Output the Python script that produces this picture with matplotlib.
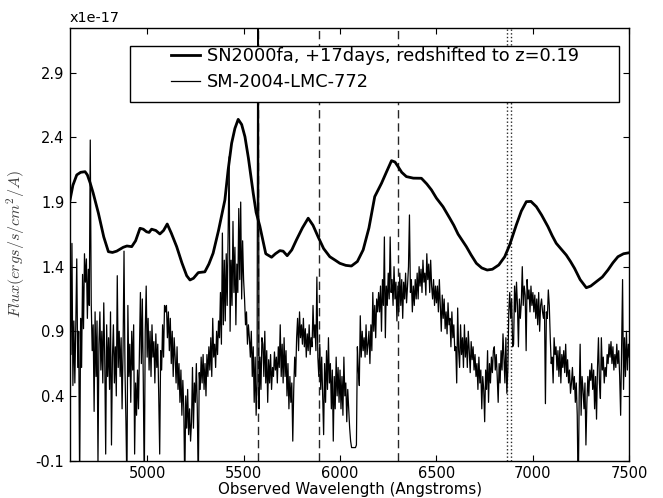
import numpy as np
import matplotlib
matplotlib.use("Agg")
import matplotlib.pyplot as plt
from matplotlib.patches import Rectangle

plt.rcParams['axes.unicode_minus'] = False
plt.rcParams['mathtext.fontset'] = 'cm'

# ---------------- data (flux in units of 1e-17) ----------------
sn_wave = [4600, 4615, 4635, 4655, 4678, 4690, 4704, 4720, 4747, 4775, 4799, 4820,
           4842, 4876, 4895, 4920, 4940, 4963, 4980, 4997, 5010, 5023, 5045, 5066,
           5085, 5104, 5125, 5153, 5180, 5205, 5222, 5240, 5265, 5299, 5320, 5342,
           5370, 5403, 5420, 5438, 5455, 5472, 5490, 5507, 5525, 5550, 5565, 5584,
           5615, 5645, 5665, 5688, 5705, 5726, 5750, 5774, 5805, 5835, 5860, 5886,
           5915, 5947, 5975, 5999, 6030, 6059, 6090, 6120, 6150, 6180, 6215, 6240,
           6267, 6285, 6301, 6320, 6344, 6380, 6422, 6450, 6474, 6500, 6534, 6569,
           6590, 6612, 6655, 6680, 6707, 6735, 6763, 6790, 6823, 6854, 6880, 6914,
           6940, 6966, 6990, 7018, 7045, 7078, 7100, 7121, 7150, 7173, 7195, 7216,
           7245, 7277, 7300, 7329, 7360, 7389, 7415, 7441, 7470, 7500]
sn_flux = [1.916, 2.03, 2.11, 2.13, 2.135, 2.11, 2.05, 1.97, 1.815, 1.63, 1.516, 1.51,
           1.52, 1.55, 1.56, 1.555, 1.60, 1.697, 1.69, 1.67, 1.665, 1.69, 1.68, 1.653,
           1.68, 1.73, 1.66, 1.555, 1.43, 1.33, 1.297, 1.31, 1.354, 1.36, 1.42, 1.504,
           1.68, 1.916, 2.15, 2.355, 2.47, 2.54, 2.50, 2.406, 2.24, 1.968, 1.82, 1.715,
           1.50, 1.473, 1.50, 1.524, 1.52, 1.485, 1.53, 1.607, 1.70, 1.775, 1.72, 1.632,
           1.54, 1.477, 1.45, 1.426, 1.41, 1.405, 1.44, 1.53, 1.70, 1.942, 2.045, 2.13,
           2.22, 2.21, 2.174, 2.13, 2.097, 2.085, 2.084, 2.04, 1.994, 1.93, 1.864, 1.775,
           1.72, 1.652, 1.555, 1.49, 1.426, 1.39, 1.374, 1.38, 1.413, 1.477, 1.57, 1.723,
           1.83, 1.903, 1.905, 1.864, 1.80, 1.71, 1.64, 1.581, 1.53, 1.49, 1.44, 1.387,
           1.30, 1.237, 1.25, 1.284, 1.32, 1.374, 1.43, 1.477, 1.50, 1.508]

sm_start = 4600
sm_step = 5
sm_flux = (
    # 4600-4695
    [1.18, 0.72, 1.58, 0.48, 0.98, 0.50, 0.95, 1.46, 0.62, 0.90, -0.30, 1.00, 0.62, 1.34, 0.92, 1.50, 1.28, 1.46, 1.00, 1.38]
    # 4700-4795
    + [1.10, 2.38, 1.12, 0.75, 0.95, 0.28, 1.05, 0.55, 0.98, -0.12, 0.80, 1.05, 0.60, 0.90, 0.50, 1.12, 0.70, -0.05, 0.95, 0.55]
    # 4800-4895
    + [0.85, 0.45, 1.05, 0.02, 0.70, 0.95, 0.50, 0.78, 0.40, 1.33, 0.62, 0.90, 0.55, 0.85, 0.30, 0.75, 1.52, 0.60, 0.20, -0.30]
    # 4900-4995
    + [1.10, 0.55, 0.80, 0.35, 0.90, 0.60, 0.95, -0.05, 0.50, 0.25, 0.60, 0.30, 0.75, 1.20, 0.65, 1.15, 0.50, -0.30, 0.90, 1.25]
    # 5000-5095
    + [0.70, 1.00, 0.60, 0.90, 0.55, 0.95, 0.70, 0.82, 0.50, 0.88, 0.62, 0.80, 0.40, -0.05, 0.75, 0.60, 0.95, 0.70, 1.10, 1.05]
    # 5100-5195
    + [1.10, 0.85, 1.05, 0.75, 1.00, 0.65, 0.90, 0.55, 0.85, 0.70, 0.50, 0.78, 0.45, 0.65, 0.35, 0.60, 0.25, 0.52, 0.30, -0.30]
    # 5200-5295
    + [0.40, 0.15, 0.45, 0.10, 0.30, 0.05, 0.20, 0.62, 0.15, 0.50, 0.35, 0.65, 0.30, -0.30, 0.58, 0.45, 0.70, 0.50, 0.72, 0.45]
    # 5300-5395
    + [0.65, 0.40, 0.72, 0.55, 0.78, 0.60, 0.85, 0.55, 1.00, 0.70, 0.80, 0.62, 0.90, 0.72, 0.98, 0.85, 1.20, 0.80, 1.66, 0.95]
    # 5400-5495
    + [1.45, 0.98, 1.50, 1.10, 1.65, 2.25, 0.90, 1.45, 1.10, 1.75, 1.20, 1.55, 0.95, 1.42, 1.20, 1.85, 1.30, 1.90, 1.15, 1.60]
    # 5500-5595
    + [1.30, 1.15, 0.95, 1.05, 0.80, 0.95, 0.85, 0.70, 0.90, 0.55, 0.78, 0.35, 0.70, 0.25, 0.50, 5.00, 0.30, 0.70, 0.45, 0.85]
    # 5600-5695
    + [0.80, 0.55, 0.90, 0.50, 0.75, 0.35, 0.68, 0.50, 0.72, 0.45, 0.62, 0.55, 0.74, 0.60, 0.70, 0.50, 0.78, 0.62, 0.95, 0.55]
    # 5700-5795
    + [0.80, 0.50, 0.85, 0.55, 0.75, 0.40, 0.65, 0.30, 0.55, 0.35, 0.50, 0.05, 0.45, 0.70, 0.55, 0.85, 1.00, 0.75, 1.05, 0.85]
    # 5800-5895
    + [0.95, 0.80, 1.00, 0.78, 0.92, 0.70, 0.88, 0.75, 0.95, 0.72, 0.85, 0.78, 1.10, 0.85, 0.95, 0.75, 1.32, 0.70, 0.55, 0.80]
    # 5900-5995
    + [0.45, 0.70, 0.40, 0.10, 0.65, 0.35, 0.75, 0.45, 0.85, 0.50, 0.65, 0.30, 0.60, 0.05, 0.55, 0.30, 0.70, 0.40, 0.62, 0.35]
    # 6000-6095
    + [0.60, 0.30, 0.55, 0.25, 0.70, 0.40, 0.50, 0.20, 0.45, 0.30, 0.15, 0.05, 0.00, 0.00, 0.00, 0.00, 0.00, 0.02, 0.78, 0.60]
    # 6100-6195
    + [0.48, 1.02, 0.70, 0.90, 0.75, 0.85, 0.70, 0.95, 0.72, 0.80, 0.90, 0.65, 0.95, 0.75, 1.20, 0.90, 1.10, 0.85, 1.15, 1.05]
    # 6200-6295
    + [1.20, 1.05, 1.25, 0.90, 1.30, 1.10, 1.63, 0.85, 1.25, 1.10, 1.35, 1.15, 1.63, 1.20, 1.30, 1.10, 1.40, 1.15, 1.28, 0.98]
    # 6300-6395
    + [1.25, 1.05, 1.35, 1.10, 1.30, 1.00, 1.28, 1.15, 1.35, 1.12, 1.25, 1.40, 1.80, 1.20, 1.30, 1.05, 1.25, 1.10, 1.30, 1.15]
    # 6400-6495
    + [1.35, 1.15, 1.40, 1.25, 1.38, 1.20, 1.45, 1.28, 1.35, 1.18, 1.50, 1.30, 1.42, 1.20, 1.45, 1.25, 1.15, 1.30, 1.10, 1.25]
    # 6500-6595
    + [1.12, 1.25, 1.05, 1.30, 1.10, 0.90, 1.18, 1.00, 1.15, 0.92, 1.05, 0.88, 1.12, 0.95, 1.00, 0.78, 1.05, 0.85, 0.95, 0.75]
    # 6600-6695
    + [0.78, 0.50, 1.08, 0.75, 0.62, 0.95, 0.72, 0.85, 0.62, 0.95, 0.70, 0.85, 0.62, 0.90, 0.75, 0.58, 0.82, 0.68, 0.78, 0.60]
    # 6700-6795
    + [0.72, 0.55, 0.65, 0.45, 0.70, 0.50, 0.60, 0.30, 0.55, 0.45, 0.20, 0.60, 0.45, 0.75, 0.35, 0.65, 0.50, 0.70, 0.58, 0.75]
    # 6800-6895
    + [0.78, 0.60, 0.72, 0.55, 0.35, 0.65, 0.50, 0.75, 0.60, 0.88, 0.70, 0.50, 0.85, 0.42, 0.60, 1.05, 1.20, 1.00, 1.15, 0.78]
    # 6900-6995
    + [0.80, 1.25, 1.05, 1.28, 1.10, 0.78, 1.15, 1.00, 1.12, 1.40, 1.10, 1.25, 1.18, 0.75, 1.30, 1.15, 1.22, 1.05, 1.25, 1.10]
    # 7000-7095
    + [1.20, 1.05, 1.18, 1.00, 1.15, 0.95, 1.20, 0.90, 1.10, 1.15, 1.05, 1.00, 1.10, 0.34, 1.05, 1.00, 1.22, 1.10, 0.85, 0.65]
    # 7100-7195
    + [0.70, 0.50, 0.85, 0.72, 0.78, 0.60, 0.75, 0.55, 0.78, 0.50, 0.72, 0.62, 0.75, 0.58, 0.80, 0.55, 0.68, 0.50, 0.60, 0.42]
    # 7200-7295
    + [0.50, 0.62, 0.45, 0.55, 0.35, 0.50, 0.25, -0.40, 0.40, 0.80, 0.25, 0.55, 0.45, 0.30, 0.50, 0.02, 0.35, 0.55, 0.40, 0.60]
    # 7300-7395
    + [0.52, 0.65, 0.45, 0.60, 0.30, 0.55, 0.22, 0.62, 0.85, 0.50, 0.38, 0.85, 0.60, 0.70, 0.50, 0.62, 0.55, 0.72, 0.65, 0.80]
    # 7400-7500
    + [0.70, 0.82, 0.65, 0.78, 0.60, 0.72, 0.62, 0.80, 0.65, 0.75, 0.55, 0.25, 0.75, 1.30, 0.45, 0.85, 0.55, 0.90, 0.60, 0.80, 0.70]
)
sm_wave = sm_start + sm_step * np.arange(len(sm_flux))

dashed_lines = [5577, 5890, 6300]
dotted_lines = [6866, 6884]

yticks = [-0.1, 0.4, 0.9, 1.4, 1.9, 2.4, 2.9]
xticks = [5000, 5500, 6000, 6500, 7000, 7500]
labels = ["SN2000fa, +17days, redshifted to z=0.19", "SM-2004-LMC-772"]

# ---------------- figure ----------------
fig = plt.figure(figsize=(6.63, 4.98), dpi=100)
ax = fig.add_axes([0.1056, 0.0753, 0.8436, 0.8685])

l1, = ax.plot(sn_wave, sn_flux, color='black', lw=2.0, zorder=3)
l2, = ax.plot(sm_wave, sm_flux, color='black', lw=0.9, zorder=2)

for w in dashed_lines:
    ax.axvline(w, color='0.15', lw=1.0, dashes=(6, 3.5), zorder=1)
for w in dotted_lines:
    ax.axvline(w, color='0.15', lw=1.0, ls=':', zorder=1)

ax.set_xlim(4600, 7500)
ax.set_ylim(-0.1, 3.247)
ax.set_xticks(xticks)
ax.set_xticklabels([str(t) for t in xticks])
ax.set_yticks(yticks)
ax.set_yticklabels(['%.1f' % t for t in yticks])
ax.tick_params(direction='in', length=4.5, width=0.8, top=True, right=True,
               labelsize=10.5, pad=4)
for s in ax.spines.values():
    s.set_linewidth(1.0)

ax.set_xlabel('Observed Wavelength (Angstroms)', fontsize=10.8, labelpad=1)
ax.set_ylabel(r'$Flux(ergs/s/cm^2/A)$', fontsize=11.5, color='0.25', labelpad=6)
ax.text(0.0, 1.008, 'x1e-17', transform=ax.transAxes, fontsize=10.4,
        ha='left', va='bottom')

# legend with custom frame
ax.add_patch(Rectangle((0.107, 0.829), 0.8746, 0.129, transform=ax.transAxes,
                       facecolor='white', edgecolor='black', lw=1.0, zorder=5))
leg = ax.legend([l1, l2], labels, loc='upper left', bbox_to_anchor=(0.168, 0.972),
                frameon=False, fontsize=12.8, handlelength=1.6,
                handletextpad=0.4, labelspacing=0.45, borderaxespad=0)
leg.set_zorder(6)

fig.savefig('out.png', dpi=100)
